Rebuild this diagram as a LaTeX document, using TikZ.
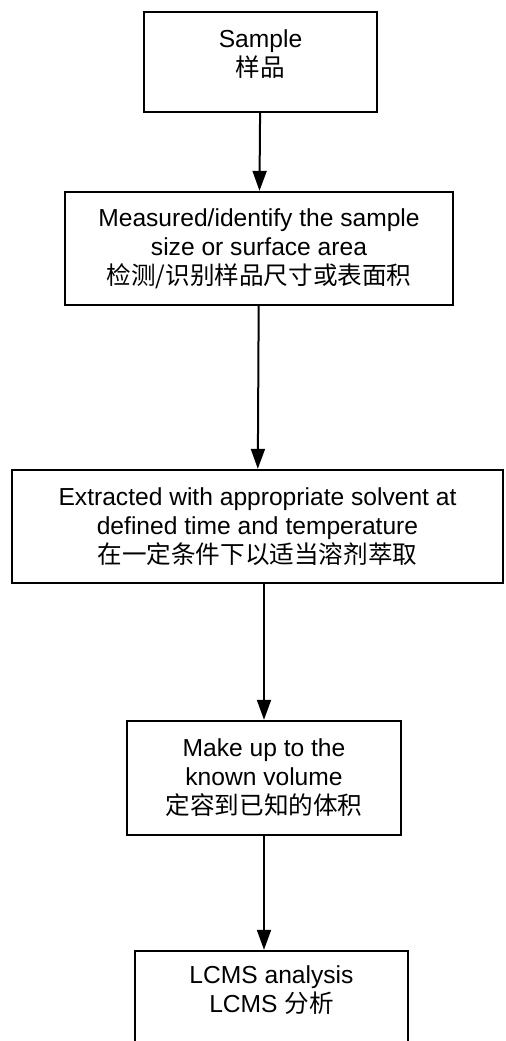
\documentclass[tikz,border=0pt]{standalone}
\usepackage{fontspec}
\setmainfont{Liberation Sans}
\newfontfamily\cjk{Noto Sans CJK SC}
\usetikzlibrary{arrows.meta}

\begin{document}
\begin{tikzpicture}[x=0.5pt, y=-0.5pt,
    stepbox/.style={draw, line width=1.2pt, align=center, inner sep=0pt,
      font=\fontsize{12.3pt}{14.5pt}\selectfont},
    flow/.style={-{Triangle[width=7pt, length=10pt]}, line width=1pt}]
    \useasboundingbox (0,0) rectangle (505,1041);

    \node[stepbox, minimum width=116.5pt, minimum height=50pt, text depth=9pt] (S) at (260.5, 62) {Sample\\{\cjk 样品}};
    \node[stepbox, minimum width=194pt, minimum height=56.5pt] (M) at (259, 248.5) {Measured/identify the sample\\size or surface area\\{\cjk 检测/识别样品尺寸或表面积}};
    \node[stepbox, minimum width=245.5pt, minimum height=56.5pt] (E) at (257.5, 526.5) {Extracted with appropriate solvent at\\defined time and temperature\\{\cjk 在一定条件下以适当溶剂萃取}};
    \node[stepbox, minimum width=137pt, minimum height=57pt] (V) at (264, 778) {Make up to the\\known volume\\{\cjk 定容到已知的体积}};
    \node[stepbox, minimum width=136.5pt, minimum height=60pt, text depth=22pt] (L) at (271.5, 1011) {LCMS analysis\\LCMS {\cjk 分析}};

    \draw[flow] (S) -- (M);
    \draw[flow] (M) -- (E);
    \draw[flow] (E.south -| V.north) -- (V.north);
    \draw[flow] (V.south) -- (V.south |- L.north);
  \end{tikzpicture}
\end{document}
